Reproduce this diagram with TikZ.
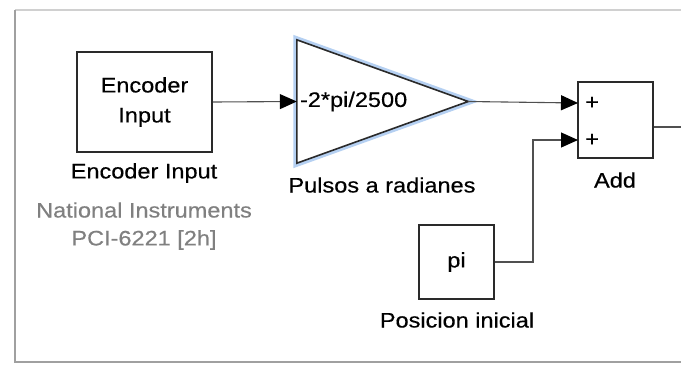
\documentclass[tikz,border=0pt]{standalone}
\usepackage{fontspec}
\setmainfont{Liberation Sans}[FakeStretch=1.12,FakeBold=0.4]
\usetikzlibrary{arrows.meta}
\definecolor{framegray}{HTML}{D0D0D0}
\definecolor{framedark}{HTML}{A0A0A0}
\definecolor{linegray}{HTML}{505050}
\definecolor{blockline}{HTML}{2A2A2A}
\definecolor{glow}{HTML}{B5D0F2}
\definecolor{subgray}{HTML}{808080}
\begin{document}
\begin{tikzpicture}[x=1pt,y=-1pt,
  every node/.style={font=\fontsize{21}{30}\selectfont, text=black},
  block/.style={draw=blockline, line width=1.6pt, fill=white, inner sep=0pt, align=center},
  conn/.style={draw=linegray, line width=1.1pt},
  arr/.style={conn, -{Triangle[length=17pt,width=15pt,color=black]}},
  sub/.style={text=subgray}]
\useasboundingbox (0,0) rectangle (681,365);
\fill[white] (0,0) rectangle (681,365);
% frame
\draw[framegray, line width=2pt] (15,10) -- (681,10);
\draw[framedark, line width=2.2pt] (15,10) -- (15,362) -- (681,362);
% blocks
\node[block, minimum width=135pt, minimum height=100pt] (enc) at (144.5,102) {Encoder\\Input};
\node[inner sep=0pt, minimum width=171pt, minimum height=123pt] (gain) at (382.5,101.5) {};
\draw[glow, line width=7pt, line join=miter] (gain.north west) -- (gain.east) -- (gain.south west) -- cycle;
\draw[blockline, line width=1.6pt, fill=white] (gain.north west) -- (gain.east) -- (gain.south west) -- cycle;
\node[anchor=west, inner sep=0pt] (gaintxt) at ([xshift=3pt]gain.west) {-2*pi/2500};
\node[block, minimum width=75pt, minimum height=76pt] (add) at (615.5,120) {};
\node[anchor=west, inner sep=0pt] (p1) at (585,103) {+};
\node[anchor=west, inner sep=0pt] (p2) at (585,140) {+};
\node[block, minimum width=75pt, minimum height=74pt] (pi) at (456.5,262) {pi};
% labels
\node (encl) at (144,173) {Encoder Input};
\node[sub] (ni) at (144,210) {National Instruments};
\node[sub] (pci) at (144,240) {PCI-6221 [2h]};
\node (gainl) at (382,185) {Pulsos a radianes};
\node (addl) at (615,180) {Add};
\node (pil) at (457,320) {Posicion inicial};
% connectors
\coordinate (in1) at (578,103);
\coordinate (in2) at (578,140);
\coordinate (bend) at (533,140);
\coordinate (aout) at (681,127);
\draw[arr] (enc.east) -- (gain.west);
\draw[arr] (gain.east) -- (in1);
\draw[arr] (pi.east) -| (bend) -- (in2);
\draw[conn] (add.east |- aout) -- (aout);
\end{tikzpicture}
\end{document}
